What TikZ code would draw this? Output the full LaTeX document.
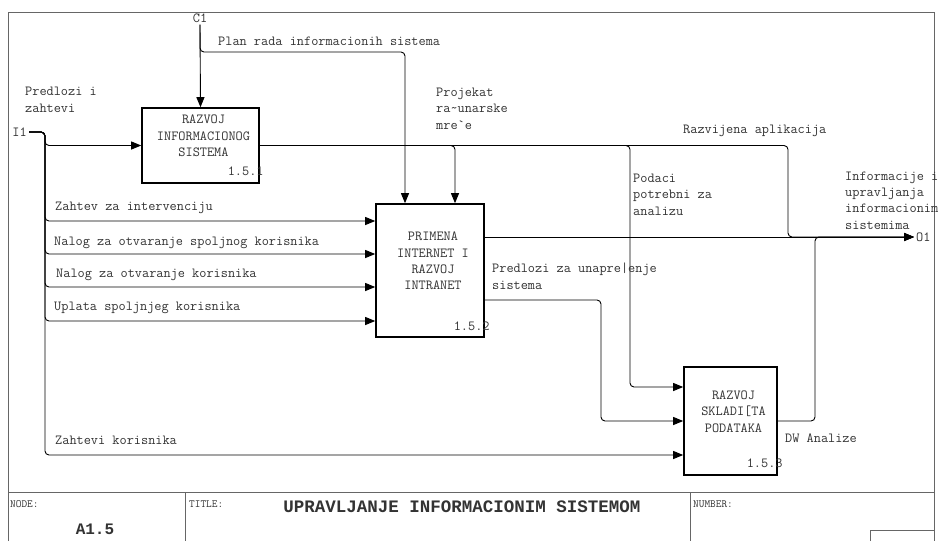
\documentclass[tikz,border=0pt]{standalone}
\usepackage{fontspec}
\newfontfamily\courierbold{Liberation Mono}
\usetikzlibrary{arrows.meta,calc}

\begin{document}
\begin{tikzpicture}[
	x=1pt, y=-1pt,
	font=\ttfamily\fontsize{13.9}{16.3}\selectfont,
	text=black!80,
	box/.style={
		rectangle,
		draw=black,
		line width=1.6pt
	},
	boxtext/.style={
		align=center,
		inner sep=0pt,
		xshift=3pt, yshift=9.5pt
	},
	num/.style={
		anchor=base east,
		inner sep=0pt
	},
	lbl/.style={
		anchor=base west,
		align=left,
		inner sep=0pt
	},
	term/.style={
		inner sep=2pt
	},
	flow/.style={
		draw=black,
		line width=0.9pt,
		rounded corners=4pt,
		-{Triangle[length=10pt,width=8pt]}
	},
	frame/.style={
		draw=black!60,
		line width=1pt
	},
	small/.style={
		anchor=base west,
		inner sep=0pt,
		font=\ttfamily\fontsize{11}{12}\selectfont
	}
	]

	\useasboundingbox (0,0) rectangle (940,541);
	\fill[white] (0,0) rectangle (940,541);

	\draw[frame] (8,541) -- (8,12) -- (934,12) -- (934,541);
	\draw[frame] (8,492) -- (934,492);
	\draw[frame] (185,492) -- (185,541);
	\draw[frame] (690,492) -- (690,541);
	\draw[frame] (870,541) -- (870,530) -- (934,530);

	\node[box, minimum width=117pt, minimum height=75pt] (RazvojIS) at (200.5,145.5) {};
	\node[boxtext] at (RazvojIS.center) {RAZVOJ\\INFORMACIONOG\\SISTEMA};
	\node[num] at ([xshift=4pt,yshift=8pt]RazvojIS.south east) {1.5.1};

	\node[box, minimum width=108pt, minimum height=133pt] (Primena) at (430,270.5) {};
	\node[boxtext] at (Primena.center) {PRIMENA\\INTERNET I\\RAZVOJ\\INTRANET};
	\node[num] at ([xshift=5pt,yshift=7pt]Primena.south east) {1.5.2};

	\node[box, minimum width=93pt, minimum height=108pt] (Skladiste) at (730.5,421) {};
	\node[boxtext] at (Skladiste.center) {RAZVOJ\\SKLADI[TA\\PODATAKA};
	\node[num] at ([xshift=5pt,yshift=8pt]Skladiste.south east) {1.5.3};

	\node[term] (C1) at (200,18) {C1};
	\node[term, anchor=east] (I1) at (29,132) {I1};
	\node[term, anchor=west] (O1) at (914,237) {O1};

	\coordinate (PlanBend) at (200,52);
	\coordinate (PlanIn) at ($(Primena.north)+(-25,0)$);
	\coordinate (ProjIn) at ($(Primena.north)+(25,0)$);
	\coordinate (ISpine) at (45,132);
	\coordinate (PodaciBend) at (630,387);
	\coordinate (AplBend) at (788,237);
	\coordinate (PredBend) at (601,421);
	\coordinate (DWBend) at (815,237);

	\draw[flow] (C1.south) -- (RazvojIS.north);
	\draw[flow] (C1.south) -- (PlanBend) -| (PlanIn);

	\draw[flow] (I1.east) -- (ISpine) |- (RazvojIS.west);
	\foreach \y in {221,254,287,321}
		\draw[flow] (I1.east) -- (ISpine) |- (Primena.west |- 0,\y);
	\draw[flow] (I1.east) -- (ISpine) |- (Skladiste.west |- 0,455);

	\draw[flow] (RazvojIS.east) -| (ProjIn);
	\draw[flow] (RazvojIS.east) -| (PodaciBend) -- (Skladiste.west |- PodaciBend);
	\draw[flow] (RazvojIS.east) -| (AplBend) -- (O1.west);

	\draw[flow] (Primena.east |- O1) -- (O1.west);
	\draw[flow] (Primena.east |- 0,300) -| (PredBend) -- (Skladiste.west);
	\draw[flow] (Skladiste.east) -| (DWBend) -- (O1.west);

	% multi-line labels sit on the baseline of their last line
	\node[lbl] at (218,45) {Plan rada informacionih sistema};
	\node[lbl] at (25,112) {Predlozi i\\zahtevi};
	\node[lbl] at (436,129) {Projekat\\ra\textasciitilde unarske\\mre`e};
	\node[lbl] at (683,133) {Razvijena aplikacija};
	\node[lbl] at (633,215) {Podaci\\potrebni za\\analizu};
	\node[lbl] at (845,229) {Informacije i\\upravljanja\\informacionim\\sistemima};
	\node[lbl] at (55,210) {Zahtev za intervenciju};
	\node[lbl] at (54,245) {Nalog za otvaranje spoljnog korisnika};
	\node[lbl] at (56,277) {Nalog za otvaranje korisnika};
	\node[lbl] at (54,310) {Uplata spoljnjeg korisnika};
	\node[lbl] at (492,289) {Predlozi za unapre|enje\\sistema};
	\node[lbl] at (55,444) {Zahtevi korisnika};
	\node[lbl] at (785,442) {DW Analize};

	\node[small] (NodeLbl) at (10,507) {NODE:};
	\node[small] (TitleLbl) at (189,507) {TITLE:};
	\node[small] (NumberLbl) at (693,507) {NUMBER:};
	\node[font=\courierbold\bfseries\fontsize{16}{18}\selectfont] (NodeId) at (95,529) {A1.5};
	\node[font=\courierbold\bfseries\fontsize{17.5}{19}\selectfont] (Title) at (462,507) {UPRAVLJANJE INFORMACIONIM SISTEMOM};

\end{tikzpicture}
\end{document}
